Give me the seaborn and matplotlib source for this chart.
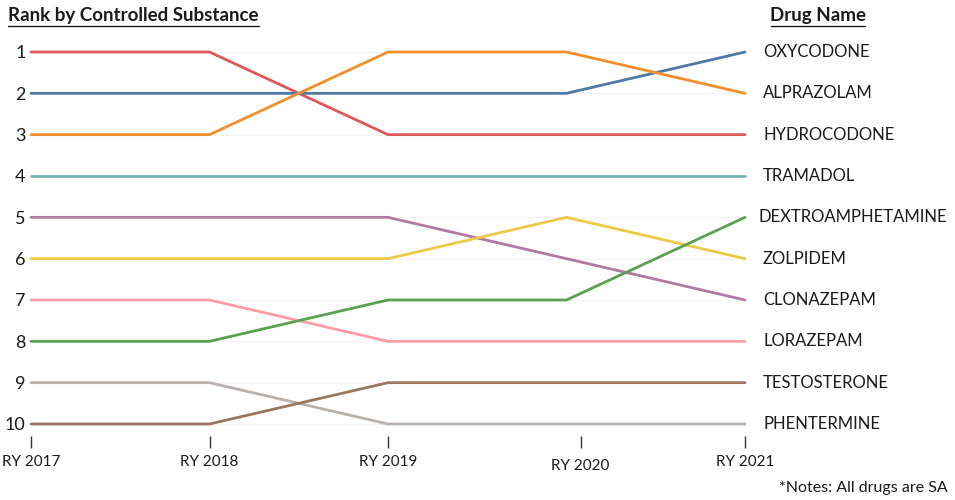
import numpy as np
import pandas as pd
import matplotlib
matplotlib.use('Agg')
import matplotlib.pyplot as plt
import matplotlib.transforms as mtrans
import seaborn as sns

years = ['RY 2017', 'RY 2018', 'RY 2019', 'RY 2020', 'RY 2021']
drugs = ['HYDROCODONE', 'OXYCODONE', 'ALPRAZOLAM', 'TRAMADOL', 'CLONAZEPAM',
         'ZOLPIDEM', 'LORAZEPAM', 'DEXTROAMPHETAMINE', 'PHENTERMINE', 'TESTOSTERONE']
hydrocodone = [1, 1, 3, 3, 3]
oxycodone = [2, 2, 2, 2, 1]
alprazolam = [3, 3, 1, 1, 2]
tramadol = [4, 4, 4, 4, 4]
clonazepam = [5, 5, 5, 6, 7]
zolpidem = [6, 6, 6, 5, 6]
lorazepam = [7, 7, 8, 8, 8]
dextroamphetamine = [8, 8, 7, 7, 5]
phentermine = [9, 9, 10, 10, 10]
testosterone = [10, 10, 9, 9, 9]
colors = ['#E15759', '#4E79A7', '#F28E2B', '#76B7B2', '#B07AA1',
          '#EDC948', '#FF9DA7', '#59A14F', '#BAB0AC', '#9C755F']

ranks = [hydrocodone, oxycodone, alprazolam, tramadol, clonazepam,
         zolpidem, lorazepam, dextroamphetamine, phentermine, testosterone]
rows = []
for d, r in zip(drugs, ranks):
	for i, v in enumerate(r):
		rows.append({'drug': d, 'year': i, 'rank': v})
df = pd.DataFrame(rows)

sns.set_style('white')
plt.rcParams['font.family'] = ['Lato', 'DejaVu Sans']

fig = plt.figure(figsize=(9.55, 5.0), dpi=100)
ax = fig.add_axes([31/955, 1-436.4/500, (745-31)/955, (436.4-39.6)/500])

# faint guide lines at every rank
for k in range(1, 11):
	ax.axhline(k, color='#f2f2f2', lw=0.8, zorder=0)

sns.lineplot(data=df, x='year', y='rank', hue='drug', palette=dict(zip(drugs, colors)),
	linewidth=2.0, legend=False, ax=ax, clip_on=False, zorder=3)

ax.set_xlim(0, 4)
ax.set_ylim(10.3, 0.7)
ax.set_yticks(range(1, 11))
ax.set_yticklabels([str(k) for k in range(1, 11)], fontsize=13, color='#1a1a1a')
ax.set_xticks(range(5))
ax.set_xticklabels(years, fontsize=11, color='#1a1a1a')
ax.tick_params(axis='y', left=False, length=0, pad=4)
ax.tick_params(axis='x', bottom=True, length=8.5, width=1.0, color='#333333', pad=5, direction='out')
ax.set_xlabel('')
ax.set_ylabel('')
for s in ax.spines.values():
	s.set_visible(False)

# RY 2020 tick sits a little lower/right in the original
lab = ax.get_xticklabels()[3]
lab.set_transform(lab.get_transform() + mtrans.ScaledTranslation(0.14, -0.04, fig.dpi_scale_trans))
tl = ax.xaxis.get_major_ticks()[3].tick1line
tl.set_transform(tl.get_transform() + mtrans.ScaledTranslation(0.14, 0, fig.dpi_scale_trans))

# right side drug labels, by final rank
for d, r in zip(drugs, ranks):
	ax.annotate(d, xy=(4, r[-1]), xytext=(13 if d != 'DEXTROAMPHETAMINE' else 9.5, 0),
		textcoords='offset points', va='center', ha='left', fontsize=12, color='#1a1a1a',
		annotation_clip=False)

fig.text(8/955, 1-15/500, 'Rank by Controlled Substance', fontsize=13.5, fontweight='bold',
	va='center', ha='left', color='#1a1a1a')
fig.text(818/955, 1-15/500, 'Drug Name', fontsize=13.5, fontweight='bold',
	va='center', ha='center', color='#1a1a1a')
fig.add_artist(plt.Line2D([8/955, 259/955], [1-26/500]*2, color='#1a1a1a', lw=1.0))
fig.add_artist(plt.Line2D([771/955, 865/955], [1-26/500]*2, color='#1a1a1a', lw=1.0))

fig.text(948/955, 1-488/500, '*Notes: All drugs are SA', fontsize=11.5, va='center', ha='right',
	color='#1a1a1a')

fig.savefig('out.png', dpi=100)
